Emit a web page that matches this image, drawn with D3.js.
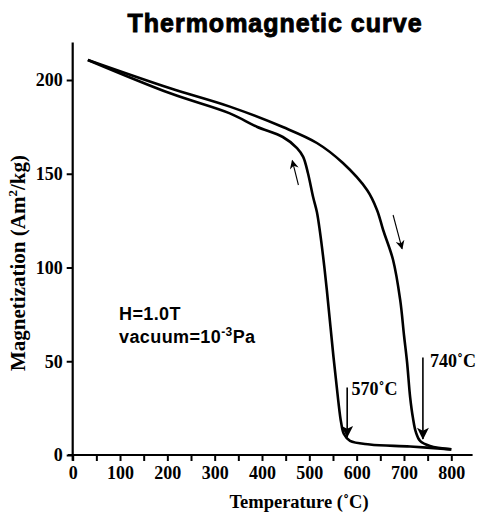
<!DOCTYPE html>
<html>
<head>
<meta charset="utf-8">
<script src="https://cdn.jsdelivr.net/npm/d3@7"></script>
<style>
  body { margin: 0; background: #fff; }
  svg { display: block; }
  .tick text { font-family: "Liberation Serif", "Times New Roman", serif; font-weight: bold; font-size: 18px; fill: #000; }
  .tick line { stroke: #000; stroke-width: 2; }
  .domain { display: none; }
</style>
</head>
<body>
<svg id="chart"></svg>
<script>
// heating run (upper branch), temperature in C, magnetization in Am2/kg
const heatT = [32, 206, 332, 444, 516, 571, 622, 643, 656, 677, 692, 700, 706.5, 713, 719, 725, 734, 755, 800];
const heatM = [210.7, 195.6, 185.8, 174.9, 166.4, 155.7, 141.3, 130.7, 120, 104, 82.7, 64, 49.6, 30.9, 19.7, 12.3, 7.5, 4.8, 3];

// cooling run (lower branch)
const coolT = [32, 206, 332, 389, 444, 474, 487, 497, 508, 516, 522.5, 530, 537, 551, 561, 567, 573, 586, 628, 713, 800];
const coolM = [210.7, 192.9, 182.2, 175.1, 169.6, 163.7, 159, 150.4, 137.6, 129.6, 119, 104, 88, 52.4, 29.3, 17.6, 11.2, 7.5, 5.6, 4.5, 3];

const xTicks = [0, 50, 100, 150, 200, 250, 300, 350, 400, 450, 500, 550, 600, 650, 700, 750, 800];
const yTicks = [0, 50, 100, 150, 200];

// arrows: [T start, M start, T end, M end]
const bigArrows = [[580, 36, 580, 9.5], [740, 52, 740, 8.5]];
const smallArrows = [[477, 144, 464, 157], [677, 128, 696, 110]];
const curieLabels = [{t: 589, m: 32, text: '570˚C'}, {t: 755, m: 47, text: '740˚C'}];

const W = 478, H = 513;
const svg = d3.select('#chart').attr('width', W).attr('height', H);

const x = d3.scaleLinear().domain([0, 800]).range([72.7, 451.3]);
const y = d3.scaleLinear().domain([0, 200]).range([455, 80]);

// title
svg.append('text')
  .attr('x', 275).attr('y', 32)
  .attr('text-anchor', 'middle')
  .style('font-family', '"Liberation Sans", Arial, sans-serif')
  .style('font-weight', 'bold')
  .style('font-size', '25px')
  .style('letter-spacing', '1px')
  .style('stroke', '#000').style('stroke-width', 0.9)
  .text('Thermomagnetic curve');

// axes
const xAxis = d3.axisBottom(x)
  .tickValues(xTicks)
  .tickSize(6)
  .tickPadding(5)
  .tickFormat(d => d % 100 === 0 ? d : '');
svg.append('g')
  .attr('transform', `translate(0, ${y(0)})`)
  .call(xAxis);

const yAxis = d3.axisLeft(y)
  .tickValues(yTicks)
  .tickSize(6)
  .tickPadding(4);
svg.append('g')
  .attr('transform', `translate(${x(0)}, 0)`)
  .call(yAxis);

// axis lines drawn a bit longer than the data range
svg.append('line')
  .attr('x1', x(-10)).attr('x2', x(845))
  .attr('y1', y(0)).attr('y2', y(0))
  .attr('stroke', '#000').attr('stroke-width', 2.2);
svg.append('line')
  .attr('x1', x(0)).attr('x2', x(0))
  .attr('y1', y(-3)).attr('y2', y(220))
  .attr('stroke', '#000').attr('stroke-width', 2.2);

// axis titles
svg.append('text')
  .attr('x', 299).attr('y', 508)
  .attr('text-anchor', 'middle')
  .style('font-family', '"Liberation Serif", "Times New Roman", serif')
  .style('font-weight', 'bold')
  .style('font-size', '18.5px')
  .text('Temperature (˚C)');

const yTitle = svg.append('text')
  .attr('transform', 'translate(25, 263) rotate(-90)')
  .attr('text-anchor', 'middle')
  .style('font-family', '"Liberation Serif", "Times New Roman", serif')
  .style('font-weight', 'bold')
  .style('font-size', '21px');
yTitle.append('tspan').text('Magnetization (Am');
yTitle.append('tspan').attr('dy', -8).style('font-size', '13px').text('2');
yTitle.append('tspan').attr('dy', 8).text('/kg)');

// curves
const line = d3.line()
  .x(d => x(d[0]))
  .y(d => y(d[1]))
  .curve(d3.curveCatmullRom.alpha(0.5));

[[heatT, heatM], [coolT, coolM]].forEach(([ts, ms]) => {
  svg.append('path')
    .datum(ts.map((t, i) => [t, ms[i]]))
    .attr('d', line)
    .attr('fill', 'none')
    .attr('stroke', '#000')
    .attr('stroke-width', 2.6)
    .attr('stroke-linejoin', 'round');
});

// arrow heads
const defs = svg.append('defs');
defs.append('marker')
  .attr('id', 'bighead')
  .attr('viewBox', '0 0 10 10')
  .attr('refX', 9.5).attr('refY', 5)
  .attr('markerWidth', 15).attr('markerHeight', 12)
  .attr('markerUnits', 'userSpaceOnUse')
  .attr('orient', 'auto')
  .append('path').attr('d', 'M0,0 L10,5 L0,10 L2.5,5 Z').attr('fill', '#000');
defs.append('marker')
  .attr('id', 'smallhead')
  .attr('viewBox', '0 0 10 10')
  .attr('refX', 9).attr('refY', 5)
  .attr('markerWidth', 11).attr('markerHeight', 9)
  .attr('markerUnits', 'userSpaceOnUse')
  .attr('orient', 'auto')
  .append('path').attr('d', 'M0,0 L10,5 L0,10 L3,5 Z').attr('fill', '#000');

svg.selectAll('.big-arrow')
  .data(bigArrows)
  .join('line')
  .attr('class', 'big-arrow')
  .attr('x1', d => x(d[0])).attr('y1', d => y(d[1]))
  .attr('x2', d => x(d[2])).attr('y2', d => y(d[3]))
  .attr('stroke', '#000').attr('stroke-width', 1.6)
  .attr('marker-end', 'url(#bighead)');

svg.selectAll('.small-arrow')
  .data(smallArrows)
  .join('line')
  .attr('class', 'small-arrow')
  .attr('x1', d => x(d[0])).attr('y1', d => y(d[1]))
  .attr('x2', d => x(d[2])).attr('y2', d => y(d[3]))
  .attr('stroke', '#000').attr('stroke-width', 1.1)
  .attr('marker-end', 'url(#smallhead)');

svg.selectAll('.curie')
  .data(curieLabels)
  .join('text')
  .attr('class', 'curie')
  .attr('x', d => x(d.t)).attr('y', d => y(d.m))
  .style('font-family', '"Liberation Serif", "Times New Roman", serif')
  .style('font-weight', 'bold')
  .style('font-size', '18px')
  .text(d => d.text);

// conditions
const cond = svg.append('g')
  .style('font-family', '"Liberation Sans", Arial, sans-serif')
  .style('font-weight', 'bold')
  .style('font-size', '18px')
  .style('letter-spacing', '0.4px');
cond.append('text').attr('x', 119).attr('y', 320).text('H=1.0T');
const vac = cond.append('text').attr('x', 119).attr('y', 343);
vac.append('tspan').text('vacuum=10');
vac.append('tspan').attr('dy', -7).style('font-size', '12px').text('-3');
vac.append('tspan').attr('dy', 7).text('Pa');
</script>
</body>
</html>
